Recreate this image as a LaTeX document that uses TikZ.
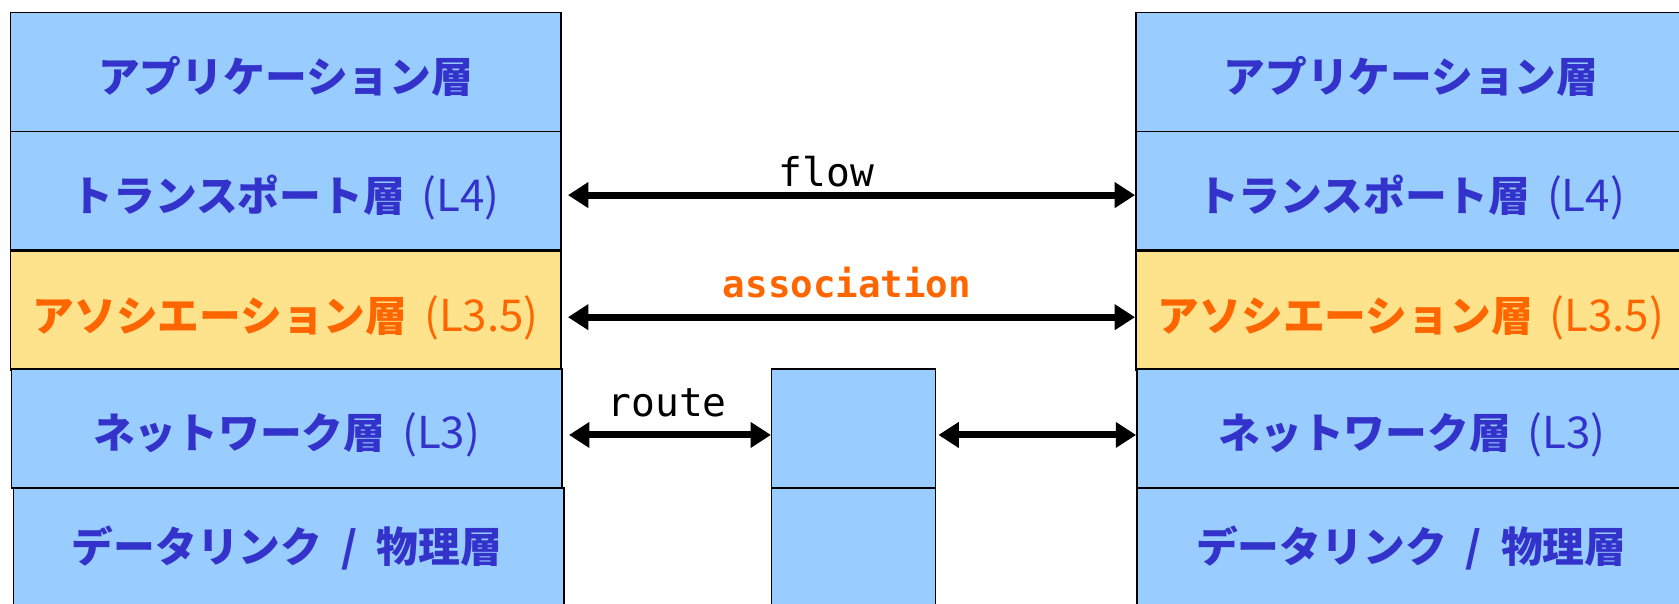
\documentclass[tikz,border=0pt]{standalone}
\usepackage{fontspec}
\usetikzlibrary{arrows.meta}
\newfontfamily\jp{Noto Sans CJK JP}
\newfontfamily\mono{DejaVu Sans Mono}
\definecolor{layerblue}{HTML}{99CCFF}
\definecolor{layeryellow}{HTML}{FFE38C}
\definecolor{textblue}{HTML}{3333CC}
\definecolor{textorange}{HTML}{FF6600}
% layer name followed by its level in parentheses
\newcommand\lvl[1]{\hspace{0.4em}{\mdseries\fontsize{41}{42}\selectfont(#1)}}
\tikzset{
  layerfont/.style={text=textblue, font=\jp\bfseries\fontsize{39}{42}\selectfont,
    text height=43pt, text depth=5pt},
  layer/.style={draw=black, line width=1.4pt, fill=layerblue, anchor=north west,
    minimum width=514pt, minimum height=111pt, inner sep=0pt, layerfont},
  assoclayer/.style={layer, fill=layeryellow, text=textorange},
  routerbox/.style={draw=black, line width=1.4pt, fill=layerblue, anchor=north west,
    minimum width=153pt, minimum height=111pt, inner sep=0pt},
  biarrow/.style={line width=6.5pt, {Triangle[length=19pt,width=23pt]}-{Triangle[length=19pt,width=23pt]}},
  lbl/.style={font=\mono\fontsize{37}{40}\selectfont, text=black, inner sep=0pt},
  assoclbl/.style={font=\mono\bfseries\fontsize{35}{38}\selectfont, text=textorange, inner sep=0pt}
}
\begin{document}
\begin{tikzpicture}[x=1pt,y=-1pt]
\clip (0,0) rectangle (1568,564);
\fill[white] (0,0) rectangle (1568,564);

% left host stack
\node[layer] (LA) at (9,11) {アプリケーション層};
\node[layer] (LT) at (9,122) {トランスポート層\lvl{L4}};
\node[assoclayer] (LS) at (9,234) {アソシエーション層\lvl{L3.5}};
\node[layer] (LN) at (10,344) {ネットワーク層\lvl{L3}};
\node[layer, minimum height=120pt] (LD) at (12,455) {};
\node[layerfont, inner sep=0pt] (LDt) at (268,506) {データリンク\ \ /\ \ 物理層};

% right host stack
\node[layer] (RA) at (1060,11) {アプリケーション層};
\node[layer] (RT) at (1060,122) {トランスポート層\lvl{L4}};
\node[assoclayer] (RS) at (1060,234) {アソシエーション層\lvl{L3.5}};
\node[layer] (RN) at (1061,344) {ネットワーク層\lvl{L3}};
\node[layer, minimum height=120pt] (RD) at (1061,455) {};
\node[layerfont, inner sep=0pt] (RDt) at (1318,506) {データリンク\ \ /\ \ 物理層};

% intermediate router
\node[routerbox] (MN) at (720,344) {};
\node[routerbox, minimum height=120pt] (MD) at (720,455) {};

% peer relations
\draw[biarrow, shorten <=6pt] ([yshift=-4pt]LT.east) -- ([yshift=-4pt]RT.west);
\draw[biarrow, shorten <=6pt] ([yshift=-6pt]LS.east) -- ([yshift=-6pt]RS.west);
\draw[biarrow, shorten <=6pt] ([yshift=-6pt]LN.east) -- ([yshift=-6pt]MN.west);
\draw[biarrow, shorten <=2pt] ([yshift=-6pt]MN.east) -- ([yshift=-6pt]RN.west);

% relation labels
\node[lbl] (flow) at (772,160) {flow};
\node[assoclbl] (assoc) at (791,264) {association};
\node[lbl] (route) at (623,376) {route};
\end{tikzpicture}
\end{document}
